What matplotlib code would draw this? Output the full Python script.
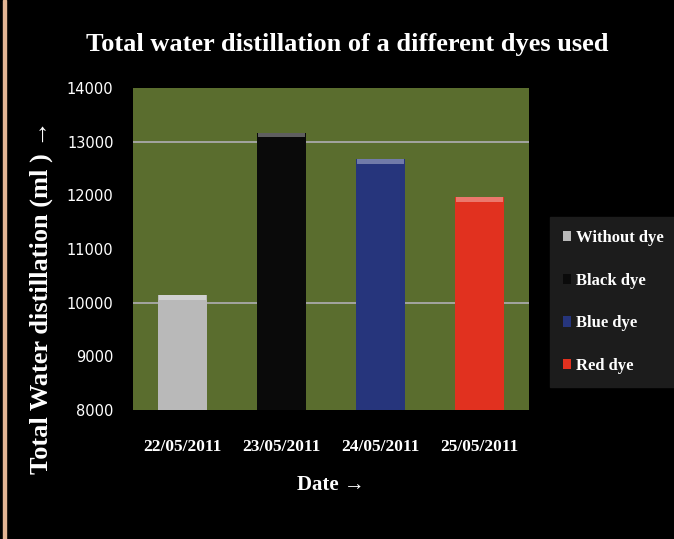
import matplotlib.pyplot as plt
from matplotlib.patches import Rectangle

dates = ['22/05/2011', '23/05/2011', '24/05/2011', '25/05/2011']
dyes = ['Without dye', 'Black dye', 'Blue dye', 'Red dye']
distillation = [10140, 13170, 12680, 11970]
colors = ['#b9b9b9', '#0a0a0a', '#26357c', '#e1311f']
ticks = [8000, 9000, 10000, 11000, 12000, 13000, 14000]

fig = plt.figure(figsize=(6.74, 5.39), dpi=100)
fig.patch.set_facecolor('black')

# plot area in pixels: x 133..529, y 88..410
ax = fig.add_axes([133 / 674, 1 - 410 / 539, 396 / 674, 322 / 539])
ax.set_facecolor('#5a6d2e')

x = range(len(dates))
bars = ax.bar(x, distillation, width=0.5, color=colors, zorder=3)
# light strip along the top of each bar (bevel look)
for b in bars:
    top = b.get_height()
    ax.bar(b.get_x() + b.get_width() / 2, 90, width=b.get_width() * 0.96,
           bottom=top - 90, color='white', alpha=0.35, zorder=4)

for g in [10000, 13000]:
    ax.axhline(g, color='#a9a9a9', lw=1.3, zorder=2)

ax.set_xlim(-0.5, 3.5)
ax.set_ylim(8000, 14000)
ax.set_yticks(ticks)
ax.set_yticklabels([str(t) for t in ticks], color='white', fontsize=10.5,
                   family='Liberation Sans Narrow')
ax.set_xticks(list(x))
ax.set_xticklabels(dates, color='white', fontsize=12.5, family='Liberation Serif',
                   fontweight='bold')
ax.tick_params(axis='y', length=0, pad=14)
ax.tick_params(axis='x', length=0, pad=21)
for s in ax.spines.values():
    s.set_visible(False)

ax.set_xlabel('Date →', color='white', fontsize=15, family='Liberation Serif',
              fontweight='bold', labelpad=14)
fig.text(41 / 674, 1 - 297 / 539, 'Total Water distillation (ml ) →',
         rotation=90, color='white', fontsize=19, family='Liberation Serif',
         fontweight='bold', ha='center', va='center')
fig.text(347 / 674, 1 - 45 / 539, 'Total water distillation of a different dyes used',
         color='white', fontsize=19, family='Liberation Serif', fontweight='bold',
         ha='center', va='center')

leg = ax.legend(bars, dyes, loc='center left', bbox_to_anchor=(550 / 674, 1 - 302 / 539),
                bbox_transform=fig.transFigure, borderaxespad=0, frameon=True,
                facecolor='#1c1c1c', edgecolor='#1c1c1c', fancybox=False,
                handlelength=0.45, handleheight=0.6, handletextpad=0.3,
                labelspacing=1.6, borderpad=0.8,
                prop={'family': 'Liberation Serif', 'weight': 'bold', 'size': 12})
for t in leg.get_texts():
    t.set_color('white')
leg.get_frame().set_alpha(1)

# peach border on the left side
fig.patches.append(Rectangle((3 / 674, 0), 3 / 674, 1, transform=fig.transFigure,
                             color='#e3b594', zorder=5))

fig.savefig('out.png', dpi=100, facecolor='black')
